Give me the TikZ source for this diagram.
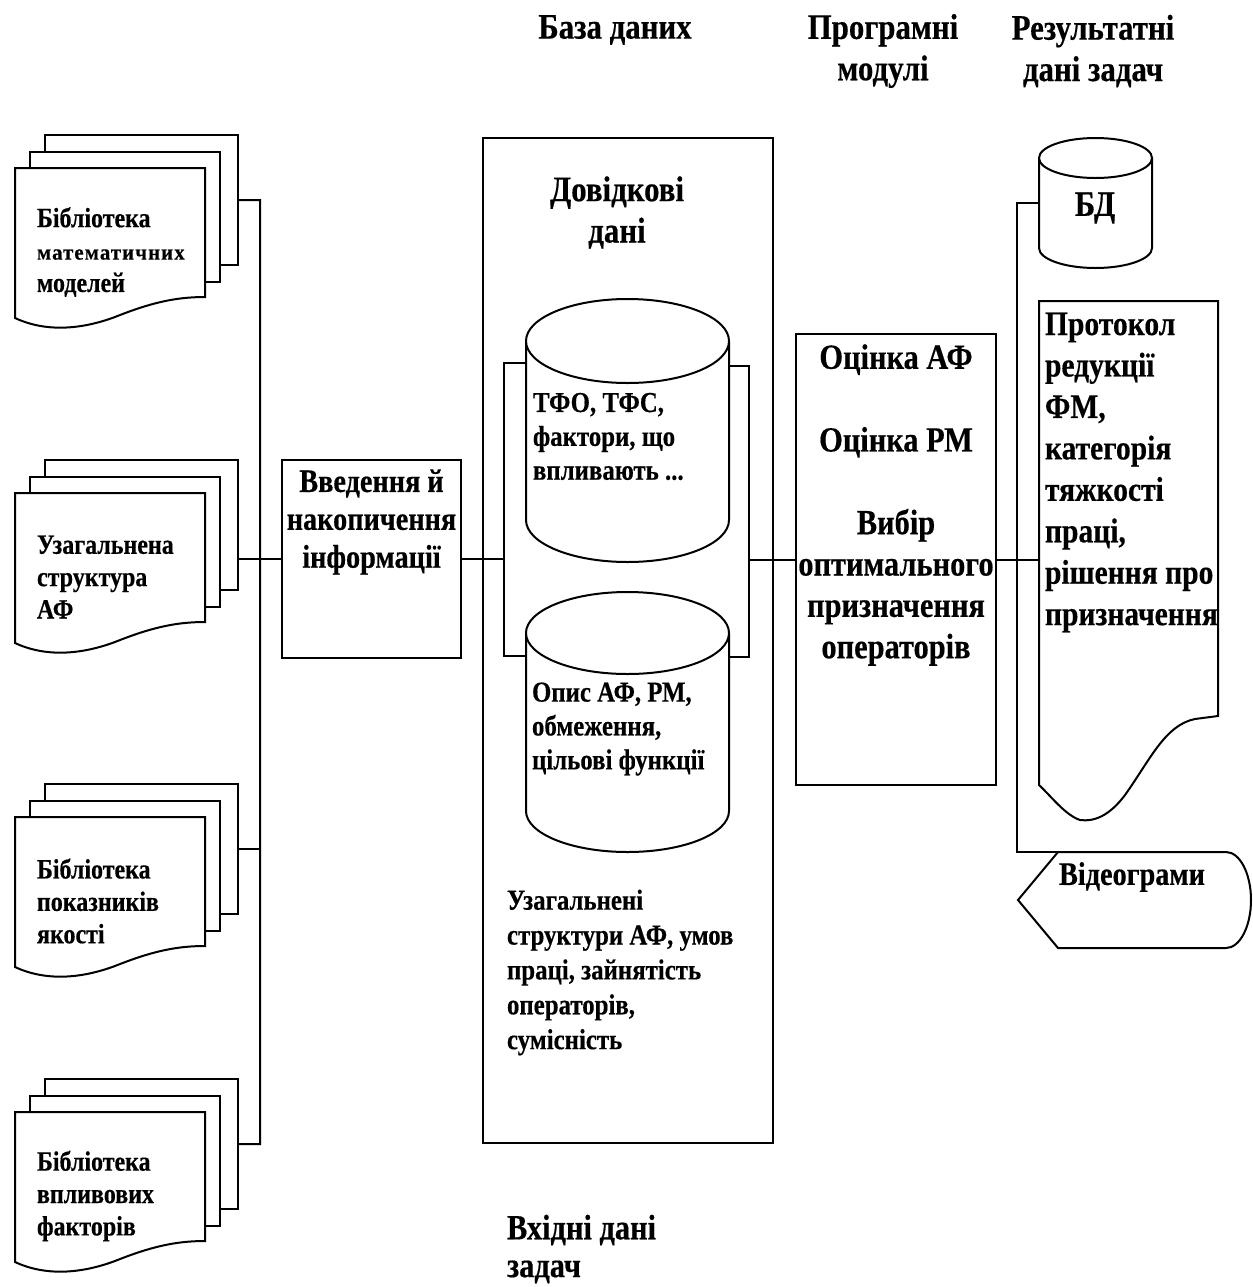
\documentclass[tikz,border=0pt]{standalone}
\usepackage{fontspec}
\newfontfamily\fA{Liberation Serif}[FakeStretch=0.86, FakeBold=0.4]
\newfontfamily\fC{Liberation Serif}[FakeStretch=0.95, LetterSpace=5, FakeBold=0.4]
\usetikzlibrary{calc}

\tikzset{
  ln/.style={line width=2bp, line join=miter},
  boxnode/.style={draw, ln, fill=white, inner sep=0pt, outer sep=0pt},
  ghost/.style={inner sep=0pt, outer sep=0pt},
  lbl/.style={inner sep=0pt, outer sep=0pt, text=black},
  bigtxt/.style={lbl, font=\fA\bfseries\fontsize{36}{41.5}\selectfont},
  midtxt/.style={lbl, font=\fA\bfseries\fontsize{29}{34}\selectfont},
  doctxt/.style={lbl, font=\fA\bfseries\fontsize{28}{32.5}\selectfont},
}

% stack of three pages; the front one has a wavy lower edge
\newcommand\docstack[5]{%
  \node[boxnode, minimum width=193bp, minimum height=130bp, anchor=north west] (#1) at (45,-#2) {};
  \node[boxnode, minimum width=190bp, minimum height=130bp, anchor=north west] (#1m) at (30,-#2-17) {};
  \draw[ln, fill=white] (15,-#2-33) -- (15,-#2-183)
    .. controls (45,-#2-197) and (80,-#2-195) .. (115,-#2-182)
    .. controls (150,-#2-168) and (175,-#2-162) .. (205,-#2-162)
    -- (205,-#2-33) -- cycle;
  \node[doctxt, anchor=west, align=left] (#1t) at (37,-#2-117) {#3\\#4\\#5};
}

% vertical cylinder: centre x, top ellipse y, bottom ellipse y, radii
\newcommand\dbcyl[5]{%
  \draw[ln, fill=white] ({#1-#4},-#2) -- ({#1-#4},-#3)
    arc[start angle=180, end angle=360, x radius=#4, y radius=#5] -- ({#1+#4},-#2);
  \draw[ln, fill=white] (#1,-#2) ellipse[x radius=#4, y radius=#5];
}

\begin{document}
\begin{tikzpicture}[x=1bp, y=1bp]
\useasboundingbox[fill=white] (0,0) rectangle (1253,-1287);

% column headings
\node[bigtxt] (hdrdb) at (615,-30) {База даних};
\node[bigtxt, align=center] (hdrmod) at (883,-51) {Програмні\\модулі};
\node[bigtxt, align=center] (hdrres) at (1093,-51) {Результатні\\дані задач};

% source libraries
\docstack{libA}{135}{Бібліотека}{{\fC\bfseries\fontsize{22}{32.5}\selectfont математичних}}{моделей}
\docstack{libB}{460}{Узагальнена}{структура}{АФ}
\docstack{libC}{784}{Бібліотека}{показників}{якості}
\docstack{libD}{1079}{Бібліотека}{впливових}{факторів}

% input block
\node[boxnode, minimum width=179bp, minimum height=198bp, anchor=north west] (intro) at (282,-460) {};
\node[bigtxt, align=center, font=\fA\bfseries\fontsize{33}{38}\selectfont] (introt) at (371.5,-522) {Введення й\\накопичення\\інформації};

% database frame
\node[boxnode, minimum width=290bp, minimum height=1005bp, anchor=north west] (db) at (483,-138) {};
\node[bigtxt, align=center] (dbref) at (617,-212.5) {Довідкові\\дані};

\node[ghost, minimum width=203bp, minimum height=263bp] (cylA) at (627.5,-430.5) {};
\node[ghost, minimum width=203bp, minimum height=261bp] (cylB) at (627.5,-721.5) {};
\dbcyl{627.5}{341}{520}{101.5}{42}
\dbcyl{627.5}{633}{811}{101.5}{41}
\node[midtxt, anchor=west, align=left] (cylAt) at (533,-436.5) {ТФО, ТФС,\\фактори, що\\впливають ...};
\node[midtxt, anchor=west, align=left] (cylBt) at (532,-729) {Опис АФ, РМ,\\обмеження,\\цільові функції};

\node[midtxt, anchor=west, align=left, font=\fA\bfseries\fontsize{29}{35}\selectfont] (dbin) at (507,-972.5)
  {Узагальнені\\структури АФ, умов\\праці, зайнятість\\операторів,\\сумісність};
\node[bigtxt, anchor=west, align=left, font=\fA\bfseries\fontsize{35.5}{38}\selectfont] (intask) at (507,-1249) {Вхідні дані\\задач};

% program modules
\node[boxnode, minimum width=200bp, minimum height=451bp, anchor=north west] (ocin) at (796,-334) {};
\node[bigtxt, align=center, font=\fA\bfseries\fontsize{35.5}{41.5}\selectfont] (ocint) at (896,-505)
  {Оцінка АФ\\[41.5pt]Оцінка РМ\\[41.5pt]Вибір\\оптимального\\призначення\\операторів};

% result data
\node[ghost, minimum width=113bp, minimum height=130bp] (bd) at (1095.5,-203) {};
\dbcyl{1095.5}{158}{248}{56.5}{20}
\node[bigtxt] (bdt) at (1095,-208) {БД};

\node[ghost, minimum width=179bp, minimum height=519bp, anchor=north west] (proto) at (1039,-301) {};
\draw[ln, fill=white] (1039,-301) -- (1218,-301) -- (1218,-716) -- (1195,-719)
  .. controls (1165,-725) and (1150,-760) .. (1125,-795)
  .. controls (1110,-815) and (1095,-822) .. (1080,-820)
  .. controls (1065,-815) and (1050,-795) .. (1039,-785) -- cycle;
\node[bigtxt, anchor=west, align=left, font=\fA\bfseries\fontsize{34.5}{41.6}\selectfont] (protot) at (1045,-472.5)
  {Протокол\\редукції\\ФМ,\\категорія\\тяжкості\\праці,\\рішення про\\призначення};

\node[ghost, minimum width=232bp, minimum height=96bp] (disp) at (1134,-900) {};
\coordinate (dispTL) at (1058,-852);
\draw[ln, fill=white] (1018,-900) -- (dispTL) -- (1226,-852)
  arc[start angle=90, end angle=-90, x radius=25, y radius=48] -- (1058,-948) -- cycle;
\node[bigtxt, font=\fA\bfseries\fontsize{33}{38}\selectfont] (dispt) at (1132,-877) {Відеограми};

% connectors: library bus
\coordinate (busL) at (260,-200);
\draw[ln] (libA.east) -- (busL) -- (busL |- libD.east) -- (libD.east);
\draw[ln] (libC.east) -- (busL |- libC.east);
\draw[ln] (libB.east |- intro.west) -- (intro.west);

% connectors: input block to the two stores
\coordinate (brL) at (504,-363);
\coordinate (brL2) at (504,-656);
\draw[ln] (cylA.west |- brL) -- (brL) -- (brL2) -- (cylB.west |- brL2);
\draw[ln] (intro.east) -- (intro.east -| brL);

\coordinate (brR) at (749,-366);
\coordinate (brR2) at (749,-657);
\draw[ln] (cylA.east |- brR) -- (brR) -- (brR2) -- (cylB.east |- brR2);
\draw[ln] (brR |- ocin.west) -- (ocin.west);

% connectors: results bus
\coordinate (busR) at (1017,-203);
\draw[ln] (bd.west) -- (busR) -- (busR |- dispTL) -- (dispTL);
\draw[ln] (ocin.east) -- (proto.west |- ocin.east);
\end{tikzpicture}
\end{document}
